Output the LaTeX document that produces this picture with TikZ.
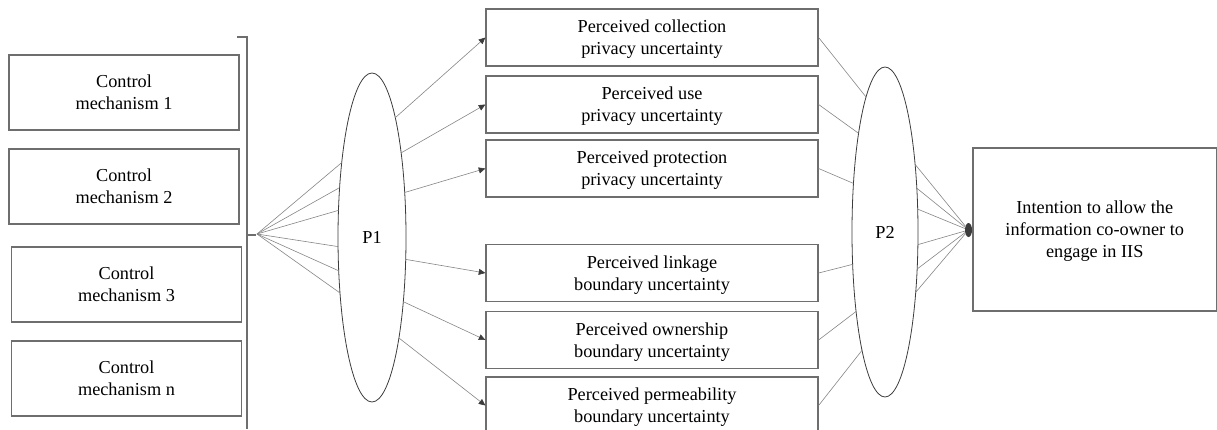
\documentclass[tikz,border=0pt]{standalone}
\usepackage{fontspec}
\setmainfont{Liberation Serif}
\usetikzlibrary{shapes.geometric,arrows.meta}
\definecolor{boxgray}{HTML}{6E6E6E}
\definecolor{linegray}{HTML}{858585}
\definecolor{rimgray}{HTML}{3C3C3C}

\begin{document}
\begin{tikzpicture}[x=0.75pt,y=-0.75pt,
  font=\fontsize{13.7}{16.5}\selectfont,
  ctrl/.style={draw=boxgray,line width=0.9pt,minimum width=172.5pt,minimum height=56.25pt,align=center,inner sep=0pt,text depth=0pt},
  unc/.style={draw=boxgray,line width=0.9pt,minimum width=249pt,minimum height=42.75pt,align=center,inner sep=0pt,text depth=0pt},
  prop/.style={ellipse,draw=rimgray,line width=0.6pt,inner sep=0pt,outer sep=0pt},
  fan/.style={draw=linegray,line width=0.45pt},
  link/.style={fan,-{Triangle[length=5pt,width=4.5pt,color=rimgray]}}]
  \useasboundingbox (0,0) rectangle (1217,429);

  % control mechanisms
  \node[ctrl] (cm1) at (124,92.5) {Control\\mechanism 1};
  \node[ctrl] (cm2) at (124,186.5) {Control\\mechanism 2};
  \node[ctrl] (cm3) at (126.5,284.5) {Control\\mechanism 3};
  \node[ctrl] (cmn) at (126.5,378.5) {Control\\mechanism n};
  \draw[boxgray,line width=0.9pt] (237,37) -- (247,37) -- (247,235) -- (256,235);
  \draw[boxgray,line width=0.9pt] (247,235) -- (247,429);
  \coordinate (tip) at (257,234);

  % propositions
  \node[prop,minimum width=51pt,minimum height=246.75pt] (P1) at (372,237.5) {P1};
  \node[prop,minimum width=49.5pt,minimum height=247.5pt] (P2) at (885,232) {P2};

  % uncertainties
  \node[unc] (coll) at (652,37.5) {Perceived collection\\privacy uncertainty};
  \node[unc] (use) at (652,104.5) {Perceived use\\privacy uncertainty};
  \node[unc] (prot) at (652,168.5) {Perceived protection\\privacy uncertainty};
  \node[unc] (link) at (652,273) {Perceived linkage\\boundary uncertainty};
  \node[unc] (own) at (652,340) {Perceived ownership\\boundary uncertainty};
  \node[unc] (perm) at (652,405.5) {Perceived permeability\\boundary uncertainty};

  % outcome
  \node[draw=boxgray,line width=0.9pt,minimum width=182.6pt,minimum height=122.25pt,align=center,inner sep=0pt,text depth=0pt] (iis) at (1094.75,229.5) {Intention to allow the\\information co-owner to\\engage in IIS};
  \node[ellipse,fill=rimgray,minimum width=5.25pt,minimum height=10.5pt,inner sep=0pt] (hub) at (968.5,230) {};

  % control mechanisms -> P1
  \foreach \a in {112.1,123.2,141.7,195.7,225.2,240}
    \draw[fan] (tip) -- (P1.\a);

  % P1 -> uncertainties
  \draw[link] (P1.79.5) -- (coll.west);
  \draw[link] (P1.71.3) -- (use.west);
  \draw[link] (P1.54.3) -- (prot.west);
  \draw[link] (P1.-33.7) -- (link.west);
  \draw[link] (P1.-64.1) -- (own.west);
  \draw[link] (P1.-75.5) -- (perm.west);

  % uncertainties -> P2
  \draw[fan] (coll.east) -- (P2.98.2);
  \draw[fan] (use.east) -- (P2.105.9);
  \draw[fan] (prot.east) -- (P2.123.1);
  \draw[fan] (link.east) -- (P2.225);
  \draw[fan] (own.east) -- (P2.250.7);
  \draw[fan] (perm.east) -- (P2.259.9);

  % P2 -> intention
  \foreach \a in {66.3,54.8,35.1,-21.6,-49,-63.3}
    \draw[fan] (P2.\a) -- (hub);
\end{tikzpicture}
\end{document}
